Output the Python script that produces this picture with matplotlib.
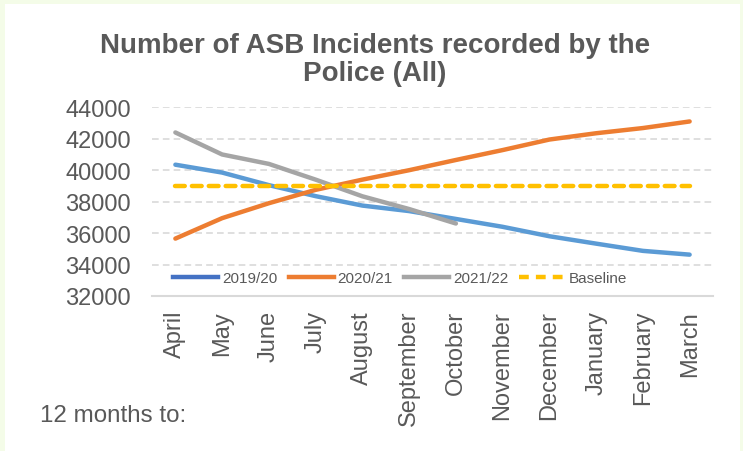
import matplotlib
matplotlib.use("Agg")
import matplotlib.pyplot as plt
from matplotlib.patches import Rectangle
from matplotlib.lines import Line2D

months = ["April", "May", "June", "July", "August", "September", "October",
          "November", "December", "January", "February", "March"]
s2019 = [40350, 39850, 39050, 38350, 37750, 37400, 36900, 36400, 35800, 35330, 34870, 34630]
s2020 = [35650, 36950, 37900, 38750, 39400, 40000, 40650, 41280, 41950, 42350, 42680, 43100]
s2021 = [42400, 41000, 40400, 39400, 38340, 37530, 36610]
baseline = [39000] * 12
yticks = [32000, 34000, 36000, 38000, 40000, 42000, 44000]

plt.rcParams['font.family'] = ['Liberation Sans', 'DejaVu Sans']
TXT = '#595959'

fig = plt.figure(figsize=(7.43, 4.52), dpi=100)
fig.patch.set_facecolor('#F4FCE8')
fig.patches.append(Rectangle((5/743, 0), 735/743, 447/452, transform=fig.transFigure,
                             facecolor='white', edgecolor='none', zorder=-5))

ax = fig.add_axes([152/743, 1-297/452, 561/743, (297-108.3)/452])
ax.set_facecolor('none')
x = list(range(12))
ax.plot(x, s2019, color='#5B9BD5', lw=3.2, solid_capstyle='round', zorder=3)
ax.plot(x, s2020, color='#ED7D31', lw=3.2, solid_capstyle='round', zorder=3)
ax.plot(x[:len(s2021)], s2021, color='#A5A5A5', lw=3.2, solid_capstyle='round', zorder=3)
ax.plot(x, baseline, color='#FFC000', lw=3.2, ls=(0, (2.2, 1.6)), dash_capstyle='round', zorder=3)

ax.set_xlim(-0.5, 11.5)
ax.set_ylim(32000, 44000)
ax.set_yticks(yticks)
ax.set_yticklabels([str(v) for v in yticks])
ax.set_xticks(x)
ax.set_xticklabels(months, rotation=90, va='top', ha='center')
ax.tick_params(axis='both', length=0, colors=TXT, labelsize=17)
ax.tick_params(axis='y', pad=15)
ax.tick_params(axis='x', pad=10)
ax.yaxis.grid(True, color='#D9D9D9', lw=1.2, ls=(0, (4, 2.5)))
ax.set_axisbelow(True)
for s in ['top', 'right', 'left']:
    ax.spines[s].set_visible(False)
ax.spines['bottom'].set_color('#D9D9D9')
ax.spines['bottom'].set_linewidth(1.5)

handles = [Line2D([], [], color='#4472C4', lw=3.2),
           Line2D([], [], color='#ED7D31', lw=3.2),
           Line2D([], [], color='#A5A5A5', lw=3.2),
           Line2D([], [], color='#FFC000', lw=3.2, ls=(0, (2.2, 1.6)))]
leg = ax.legend(handles, ["2019/20", "2020/21", "2021/22", "Baseline"], ncol=4,
                loc='center left', bbox_to_anchor=((168 - 152) / 561, 0.096), frameon=True,
                facecolor='white', edgecolor='none', framealpha=1, borderaxespad=0,
                fontsize=11, handlelength=2.95, handletextpad=0.26, columnspacing=0.72,
                borderpad=0.35, labelcolor=TXT)
leg.set_zorder(5)

fig.text(375/743, 1-60/452, "Number of ASB Incidents recorded by the\nPolice (All)",
         ha='center', va='center', fontsize=20, fontweight='bold', color=TXT,
         linespacing=1.1)
fig.text(40/743, 1-416/452, "12 months to:", ha='left', va='center', fontsize=17.4, color=TXT)

fig.savefig('out.png', dpi=100, facecolor=fig.get_facecolor())
